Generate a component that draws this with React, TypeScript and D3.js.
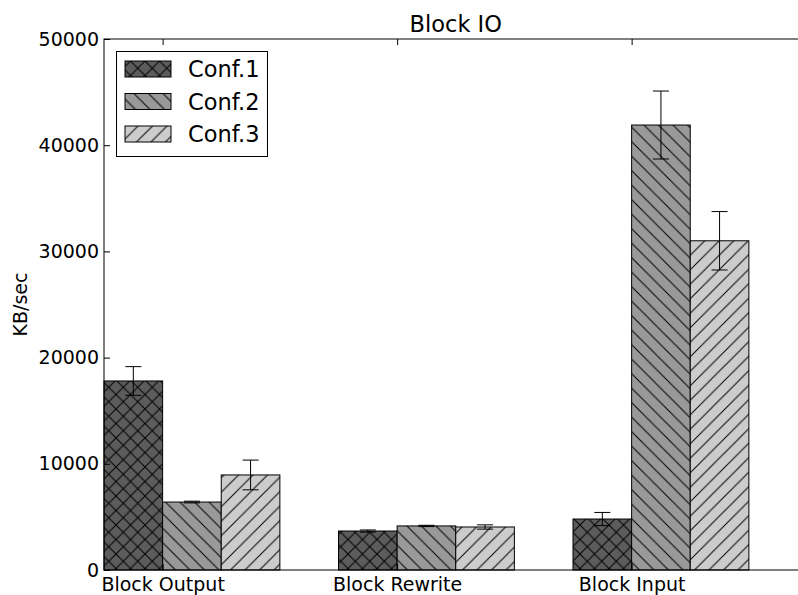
import React, { useEffect, useRef } from 'react'
import * as d3 from 'd3'

const categories = ['Block Output', 'Block Rewrite', 'Block Input']
const seriesNames = ['Conf.1', 'Conf.2', 'Conf.3']
const conf1 = [17800, 3670, 4800]
const conf1Err = [1350, 100, 620]
const conf2 = [6400, 4150, 41900]
const conf2Err = [80, 60, 3200]
const conf3 = [8950, 4050, 31000]
const conf3Err = [1400, 200, 2750]
const yTicks = [0, 10000, 20000, 30000, 40000, 50000]

const fills = ['#5c5c5c', '#999999', '#cccccc']
const hatches = ['x', '\\', '/']

const W = 798
const H = 595
const margin = { left: 104, top: 39, bottom: 570 }
const BAR_W = 0.25

export default function App() {
  const ref = useRef<SVGSVGElement | null>(null)

  useEffect(() => {
    const svg = d3.select(ref.current)
    svg.selectAll('*').remove()
    const font = 'DejaVu Sans, sans-serif'

    const x = d3.scaleLinear().domain([0, 3]).range([margin.left, margin.left + 3 * 234.5])
    const y = d3.scaleLinear().domain([0, 50000]).range([margin.bottom, margin.top])
    const right = x(3)

    // hatch patterns
    const s = 14.5
    const defs = svg.append('defs')
    hatches.forEach((h, i) => {
      const p = defs
        .append('pattern')
        .attr('id', `hatch${i}`)
        .attr('patternUnits', 'userSpaceOnUse')
        .attr('x', 0)
        .attr('y', 3)
        .attr('width', s)
        .attr('height', s)
      p.append('rect').attr('width', s).attr('height', s).attr('fill', fills[i])
      const fwd = `M0,${s}L${s},0M-2,2L2,-2M${s - 2},${s + 2}L${s + 2},${s - 2}`
      const back = `M0,0L${s},${s}M${s - 2},-2L${s + 2},2M-2,${s - 2}L2,${s + 2}`
      const d = h === 'x' ? fwd + back : h === '/' ? fwd : back
      p.append('path').attr('d', d).attr('stroke', '#000').attr('stroke-width', 1).attr('fill', 'none')
    })

    const series = [
      { values: conf1, errs: conf1Err },
      { values: conf2, errs: conf2Err },
      { values: conf3, errs: conf3Err },
    ]

    const bw = x(BAR_W) - x(0)
    series.forEach((ser, j) => {
      const g = svg.append('g')
      g.selectAll('rect')
        .data(ser.values)
        .enter()
        .append('rect')
        .attr('x', (_, i) => x(i + j * BAR_W))
        .attr('y', d => y(d))
        .attr('width', bw)
        .attr('height', d => y(0) - y(d))
        .attr('fill', `url(#hatch${j})`)
        .attr('stroke', '#000')
        .attr('stroke-width', 1)

      const eb = g
        .selectAll('.err')
        .data(ser.values)
        .enter()
        .append('g')
        .attr('stroke', '#000')
        .attr('stroke-width', 1)
      const cx = (i: number) => x(i + j * BAR_W + BAR_W / 2)
      eb.append('line')
        .attr('x1', (_, i) => cx(i))
        .attr('x2', (_, i) => cx(i))
        .attr('y1', (d, i) => y(d + ser.errs[i]))
        .attr('y2', (d, i) => y(d - ser.errs[i]))
      eb.append('line')
        .attr('x1', (_, i) => cx(i) - 8)
        .attr('x2', (_, i) => cx(i) + 8)
        .attr('y1', (d, i) => y(d + ser.errs[i]))
        .attr('y2', (d, i) => y(d + ser.errs[i]))
      eb.append('line')
        .attr('x1', (_, i) => cx(i) - 8)
        .attr('x2', (_, i) => cx(i) + 8)
        .attr('y1', (d, i) => y(d - ser.errs[i]))
        .attr('y2', (d, i) => y(d - ser.errs[i]))
    })

    // axes with inward ticks
    const xt = d3.scaleOrdinal<string, number>().domain(categories).range(categories.map((_, i) => x(i + BAR_W)))
    const yAxis = d3.axisLeft(y).tickValues(yTicks).tickSize(-6).tickPadding(5).tickFormat(d3.format('d'))
    const gy = svg.append('g').attr('transform', `translate(${margin.left},0)`).call(yAxis)
    const xAxis = d3.axisBottom(xt as any).tickSize(-6).tickPadding(8)
    const gx = svg.append('g').attr('transform', `translate(0,${margin.bottom})`).call(xAxis)
    const gTop = svg
      .append('g')
      .attr('transform', `translate(0,${margin.top})`)
      .call(d3.axisTop(xt as any).tickSize(-6).tickFormat(() => ''))
    const gRight = svg
      .append('g')
      .attr('transform', `translate(${right},0)`)
      .call(d3.axisRight(y).tickValues(yTicks).tickSize(-6).tickFormat(() => ''))
    ;[gy, gx, gTop, gRight].forEach(g => {
      g.select('.domain').remove()
      g.selectAll('line').attr('stroke', '#000')
      g.selectAll('text').attr('font-family', font).attr('font-size', 19).attr('fill', '#000')
    })

    svg
      .append('rect')
      .attr('x', margin.left)
      .attr('y', margin.top)
      .attr('width', right - margin.left)
      .attr('height', margin.bottom - margin.top)
      .attr('fill', 'none')
      .attr('stroke', '#000')
      .attr('stroke-width', 1)

    svg
      .append('text')
      .attr('x', (margin.left + right) / 2)
      .attr('y', 32)
      .attr('text-anchor', 'middle')
      .attr('font-family', font)
      .attr('font-size', 22.5)
      .text('Block IO')

    svg
      .append('text')
      .attr('transform', `translate(27,${(margin.top + margin.bottom) / 2}) rotate(-90)`)
      .attr('text-anchor', 'middle')
      .attr('font-family', font)
      .attr('font-size', 19)
      .text('KB/sec')

    // legend
    const lg = svg.append('g')
    lg.append('rect')
      .attr('x', 116.5)
      .attr('y', 51.5)
      .attr('width', 151)
      .attr('height', 105)
      .attr('fill', '#fff')
      .attr('stroke', '#000')
    const rowY = [69, 101.5, 134]
    seriesNames.forEach((name, j) => {
      lg.append('rect')
        .attr('x', 125)
        .attr('y', rowY[j] - 8)
        .attr('width', 46)
        .attr('height', 16)
        .attr('fill', `url(#hatch${j})`)
        .attr('stroke', '#000')
      lg.append('text')
        .attr('x', 188)
        .attr('y', rowY[j])
        .attr('dy', '0.36em')
        .attr('font-family', font)
        .attr('font-size', 22.5)
        .text(name)
    })
  }, [])

  return (
    <div>
      <style>{'body{margin:0}svg{display:block}'}</style>
      <svg ref={ref} width={W} height={H} style={{ background: '#fff' }} />
    </div>
  )
}
